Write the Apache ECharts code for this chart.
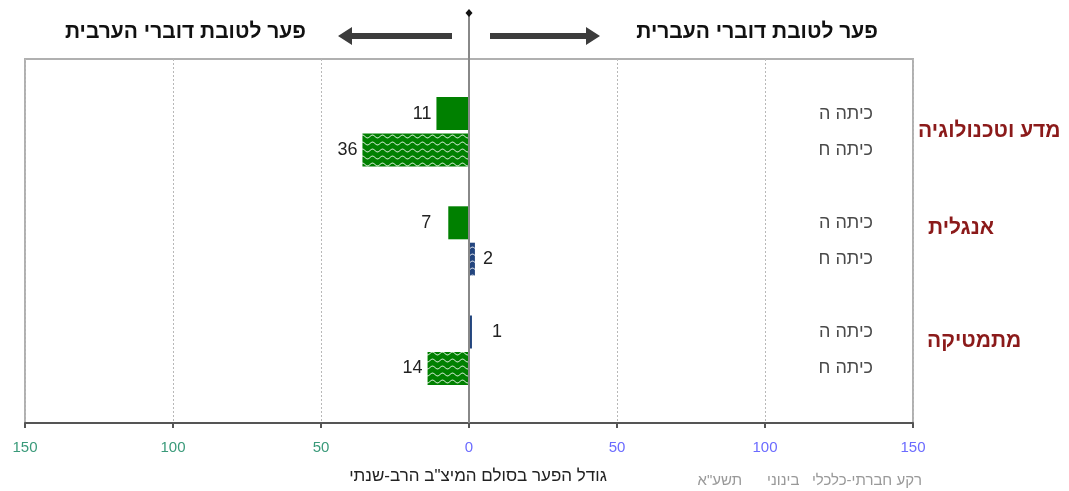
<!DOCTYPE html>
<html>
<head>
<meta charset="utf-8">
<script src="https://cdn.jsdelivr.net/npm/echarts@6/dist/echarts.min.js"></script>
<style>
  html, body { margin: 0; padding: 0; background: #fff; }
  #chart { width: 1069px; height: 491px; }
</style>
</head>
<body>
<div id="chart"></div>
<script>
// נתונים: פער בין דוברי עברית לדוברי ערבית (שלילי = לטובת דוברי הערבית)
var subjects = ['מדע וטכנולוגיה', 'אנגלית', 'מתמטיקה'];
var grades = ['כיתה ה', 'כיתה ח'];
var gapGrade5 = [-11, -7, 1];
var gapGrade8 = [-36, 2, -14];
var xTicks = [-150, -100, -50, 0, 50, 100, 150];

var leftTitle = 'פער לטובת דוברי הערבית';
var rightTitle = 'פער לטובת דוברי העברית';
var axisName = 'גודל הפער בסולם המיצ"ב הרב-שנתי';
var footNote = 'רקע חברתי-כלכלי   בינוני      תשע"א';

var GREEN = '#008000', BLUE = '#23457e';

// wavy pattern fill like the excel texture
function wavePattern(color) {
  var c = document.createElement('canvas')
  c.width = 10; c.height = 7
  var ctx = c.getContext('2d')
  ctx.fillStyle = color
  ctx.fillRect(0, 0, 10, 7)
  ctx.strokeStyle = '#fff'
  ctx.lineWidth = 1
  ctx.beginPath()
  for (var x = 0; x <= 10; x += 0.5) {
    var y = 3.5 - 1.4 * Math.sin(x / 10 * Math.PI * 2)
    if (x === 0) ctx.moveTo(x, y); else ctx.lineTo(x, y)
  }
  ctx.stroke()
  return { image: c, repeat: 'repeat' }
}

// rows: blank, subj-ה, subj-ח, blank, ...
var rowLabels = [], rowValues = [], rowGrade = []
subjects.forEach(function (s, i) {
  rowLabels.push(''); rowValues.push(null); rowGrade.push(-1)
  rowLabels.push(grades[0]); rowValues.push(gapGrade5[i]); rowGrade.push(0)
  rowLabels.push(grades[1]); rowValues.push(gapGrade8[i]); rowGrade.push(1)
})
rowLabels.push(''); rowValues.push(null); rowGrade.push(-1)
var rowIds = rowLabels.map(function (l, i) { return 'r' + i })

var labelGap = { '-11': 5, '-36': 5, '-7': 17, '2': 8, '1': 20, '-14': 5 }

var barData = rowValues.map(function (v, i) {
  if (v === null) return null
  var col = v < 0 ? GREEN : BLUE
  return {
    value: v,
    itemStyle: { color: rowGrade[i] === 0 ? col : wavePattern(col) },
    label: { position: v < 0 ? 'left' : 'right', distance: labelGap[String(v)] || 5 }
  }
})

var chart = echarts.init(document.getElementById('chart'))

var option = {
  animation: false,
  grid: { left: 25, right: 156, top: 59, bottom: 68, show: true, borderColor: '#b0b0b0', borderWidth: 2 },
  xAxis: {
    type: 'value', min: -150, max: 150, interval: 50,
    axisLine: { show: true, lineStyle: { color: '#555', width: 2 } },
    axisTick: { show: true, length: 5, lineStyle: { color: '#555', width: 2 } },
    splitLine: { show: true, lineStyle: { color: '#b8b8b8', type: [2, 2], width: 1 } },
    axisLabel: {
      margin: 17, fontSize: 15, fontFamily: 'Liberation Sans Narrow, Liberation Sans, Arial',
      formatter: function (v) { return Math.abs(v) },
      color: function (v) { return v < 0 ? '#3a9a7a' : '#6b6bff' }
    }
  },
  yAxis: {
    type: 'category', inverse: true, position: 'right', data: rowIds,
    axisLine: { show: false }, axisTick: { show: false },
    axisLabel: {
      inside: true, margin: 40, fontSize: 18, color: '#4a4a4a',
      fontFamily: 'Liberation Sans, Arial',
      formatter: function (v) { return rowLabels[rowIds.indexOf(v)] }
    }
  },
  series: [{
    type: 'bar', data: barData, barWidth: 33,
    label: {
      show: true, fontSize: 18, color: '#222', fontFamily: 'Liberation Sans, Arial',
      formatter: function (p) { return Math.abs(p.value) }
    }
  }]
}
chart.setOption(option)

// decorations: zero line, arrows, titles
var x0 = chart.convertToPixel({ xAxisIndex: 0 }, 0)
var yBottom = 491 - 68
var g = []
g.push({ type: 'line', shape: { x1: x0, y1: 13, x2: x0, y2: yBottom }, style: { stroke: '#888', lineWidth: 2 }, z: 100 })
g.push({ type: 'polygon', shape: { points: [[x0, 9], [x0 + 3.5, 13], [x0, 17], [x0 - 3.5, 13]] }, style: { fill: '#111' }, z: 101 })
function arrow(xs, xe) {
  var d = xe > xs ? 1 : -1, y = 36
  return {
    type: 'polygon', z: 100,
    shape: { points: [[xs, y - 3], [xe - d * 14, y - 3], [xe - d * 14, y - 9], [xe, y], [xe - d * 14, y + 9], [xe - d * 14, y + 3], [xs, y + 3]] },
    style: { fill: '#3c3c3c' }
  }
}
g.push(arrow(x0 - 17, x0 - 131))
g.push(arrow(x0 + 21, x0 + 131))
var titleFont = 'bold 21px "Liberation Sans", Arial'
g.push({ type: 'text', style: { text: leftTitle, x: 306, y: 32, align: 'right', verticalAlign: 'middle', font: titleFont, fill: '#111' } })
g.push({ type: 'text', style: { text: rightTitle, x: 878, y: 32, align: 'right', verticalAlign: 'middle', font: titleFont, fill: '#111' } })

var subjOffset = [18, 5, 9]
var subjX = [918, 928, 927]
subjects.forEach(function (s, i) {
  var y = chart.convertToPixel({ yAxisIndex: 0 }, rowIds[i * 3 + 1]) + subjOffset[i]
  g.push({ type: 'text', style: { text: s, x: subjX[i], y: y, align: 'left', verticalAlign: 'middle', font: 'bold 21px "Liberation Sans", Arial', fill: '#8b1a1a' } })
})
g.push({ type: 'text', style: { text: axisName, x: 478, y: 476, align: 'center', verticalAlign: 'middle', font: '17px "Liberation Sans", Arial', fill: '#222' } })
g.push({ type: 'text', style: { text: footNote, x: 922, y: 481, align: 'right', verticalAlign: 'middle', font: '15px "Liberation Sans", Arial', fill: '#999' } })

chart.setOption({ graphic: g })
</script>
</body>
</html>
